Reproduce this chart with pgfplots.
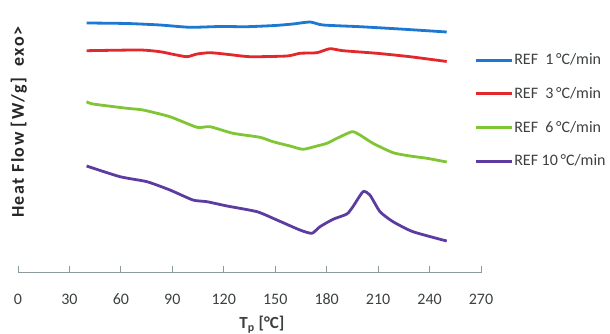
\documentclass[border=0pt]{standalone}
\usepackage{pgfplots}
\pgfplotsset{compat=1.18}
\usepackage{fontspec}
\setmainfont{Carlito}
\definecolor{cblue}{RGB}{28,120,208}
\definecolor{cred}{RGB}{226,40,44}
\definecolor{cgreen}{RGB}{128,198,52}
\definecolor{cpurple}{RGB}{92,60,160}
\definecolor{axgray}{RGB}{140,155,155}
\definecolor{txgray}{RGB}{60,64,64}
\begin{document}
\begin{tikzpicture}
\path[use as bounding box] (-18pt,-61pt) rectangle (592pt,273pt);
\begin{axis}[
  scale only axis, width=463pt, height=273pt,
  at={(0pt,0pt)}, anchor=south west,
  xmin=0, xmax=270, ymin=0, ymax=273,
  axis x line*=bottom, axis y line=none,
  x axis line style={-, draw=axgray, line width=1pt},
  xtick={0,30,...,270},
  xtick align=inside, major tick length=7pt,
  xtick style={draw=axgray, line width=0.8pt},
  /pgf/number format/assume math mode=true,
  xticklabel style={font=\fontsize{16}{19}\selectfont, text=txgray, anchor=center, yshift=-26pt},
  clip=false,
  legend cell align=left,
  legend style={draw=none, fill=none, at={(rel axis cs:0.985,0.807)}, anchor=north west,
    font=\fontsize{16}{19}\selectfont, text=txgray, row sep=19pt, inner sep=0pt, nodes={inner sep=1pt}},
  legend image code/.code={\draw[#1, line width=3pt] (0pt,0pt) -- (36pt,0pt);},
  every axis plot/.append style={line width=2.8pt, line join=round, smooth, tension=0.35},
]
\addplot[cblue] coordinates {
(40,250) (63.6,249.5) (82.8,248) (100.3,245.7) (117.8,246.5) (133.5,246.3)
(149.9,247.5) (160.3,249) (170.3,251) (177.8,248) (199.4,246.3) (222.7,244) (250,241)};
\addlegendentry{REF\ \ 1\,°C/min}
\addplot[cred] coordinates {
(40,222.3) (71.1,223) (82.8,221.3) (90.4,218.7) (98.5,216.3) (104.4,219) (112,220.3)
(121.9,218.7) (135.3,216.3) (156.9,217) (164.4,219.7) (174.3,220.3) (181.9,224.3)
(189.5,222.3) (209.3,219.7) (228.6,216.3) (250,211.5)};
\addlegendentry{REF\ \ 3\,°C/min}
\addplot[cgreen] coordinates {
(40,171.3) (43.7,169) (63.6,164.7) (72.9,163) (88.6,156.3) (104.4,145.7) (112,146.3)
(125.4,139.7) (141.1,135.7) (148.7,131.3) (158.6,127) (166.2,123.7) (174.3,127)
(180.2,129.7) (186,134.7) (194.8,141.3) (199.4,138) (207,129.7) (218.7,120.3)
(228.6,117) (238.5,114.7) (250,111)};
\addlegendentry{REF\ \ 6\,°C/min}
\addplot[cpurple] coordinates {
(40,107) (59.5,96.3) (75.2,91.3) (88.6,83) (102,73) (110.2,71.3) (121.9,67)
(139.4,61.3) (151,53) (164.4,43) (171.4,39.7) (176.1,46.3) (183.7,53.7) (191.8,59)
(195.3,66.3) (201.2,81.3) (205.2,78) (211.1,61.3) (218.7,51.3) (230.3,41.3) (250,32)};
\addlegendentry{REF 10\,°C/min}
\node[rotate=90, font=\bfseries\fontsize{18}{21}\selectfont\addfontfeatures{LetterSpace=8}, text=black!85] at (rel axis cs:0.002,0.552) {Heat Flow [W/g]\ \ exo>};
\node[font=\bfseries\fontsize{17}{20}\selectfont, text=txgray] at (rel axis cs:0.527,-0.19) {T\textsubscript{p} [°C]};
\end{axis}
\end{tikzpicture}
\end{document}
